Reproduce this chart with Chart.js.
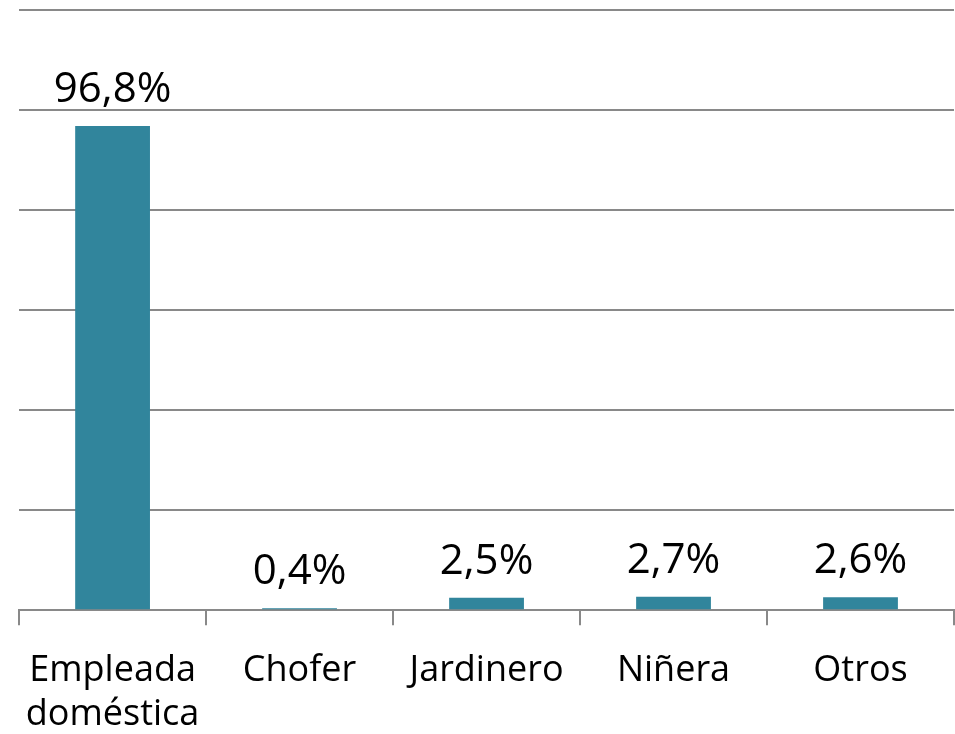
<!DOCTYPE html>
<html>
<head>
<meta charset="utf-8">
<script src="https://cdn.jsdelivr.net/npm/chart.js@4/dist/chart.umd.min.js"></script>
<style>
  html, body { margin: 0; padding: 0; background: #fff; height: 734px; overflow: hidden; }
  #wrap { width: 955px; height: 761px; }
</style>
</head>
<body>
<div id="wrap"><canvas id="chart"></canvas></div>
<script>
const categories = [['Empleada', 'doméstica'], 'Chofer', 'Jardinero', 'Niñera', 'Otros'];
const shares = [96.8, 0.4, 2.5, 2.7, 2.6];
const yMax = 120;
const yStep = 20;

// etiquetas de valor encima de cada barra
const valueLabels = {
  id: 'valueLabels',
  afterDatasetsDraw(chart) {
    const ctx = chart.ctx;
    const meta = chart.getDatasetMeta(0);
    ctx.save();
    ctx.font = '42px "Open Sans"';
    ctx.fillStyle = '#000';
    ctx.textAlign = 'center';
    ctx.textBaseline = 'alphabetic';
    meta.data.forEach((bar, i) => {
      const txt = shares[i].toFixed(1).replace('.', ',') + '%';
      ctx.fillText(txt, bar.x, bar.y - 24);
    });
    ctx.restore();
  }
};

new Chart(document.getElementById('chart'), {
  type: 'bar',
  data: {
    labels: categories,
    datasets: [{
      data: shares,
      backgroundColor: '#31859C',
      barPercentage: 1,
      categoryPercentage: 0.4
    }]
  },
  options: {
    responsive: true,
    maintainAspectRatio: false,
    animation: false,
    layout: { padding: { left: 18, top: 10, right: 1, bottom: 0 } },
    plugins: { legend: { display: false }, tooltip: { enabled: false } },
    scales: {
      x: {
        grid: {
          offset: true,
          drawOnChartArea: false,
          drawTicks: true,
          tickLength: 15,
          color: '#898989',
          lineWidth: 2
        },
        border: { color: '#898989', width: 2 },
        ticks: {
          color: '#000',
          font: { family: 'Open Sans', size: 36, lineHeight: 1.22 },
          padding: 24,
          maxRotation: 0,
          autoSkip: false
        }
      },
      y: {
        min: 0,
        max: yMax,
        ticks: { stepSize: yStep, display: false },
        grid: { color: '#898989', lineWidth: 2, drawTicks: false },
        border: { display: false }
      }
    }
  },
  plugins: [valueLabels]
});
</script>
</body>
</html>
